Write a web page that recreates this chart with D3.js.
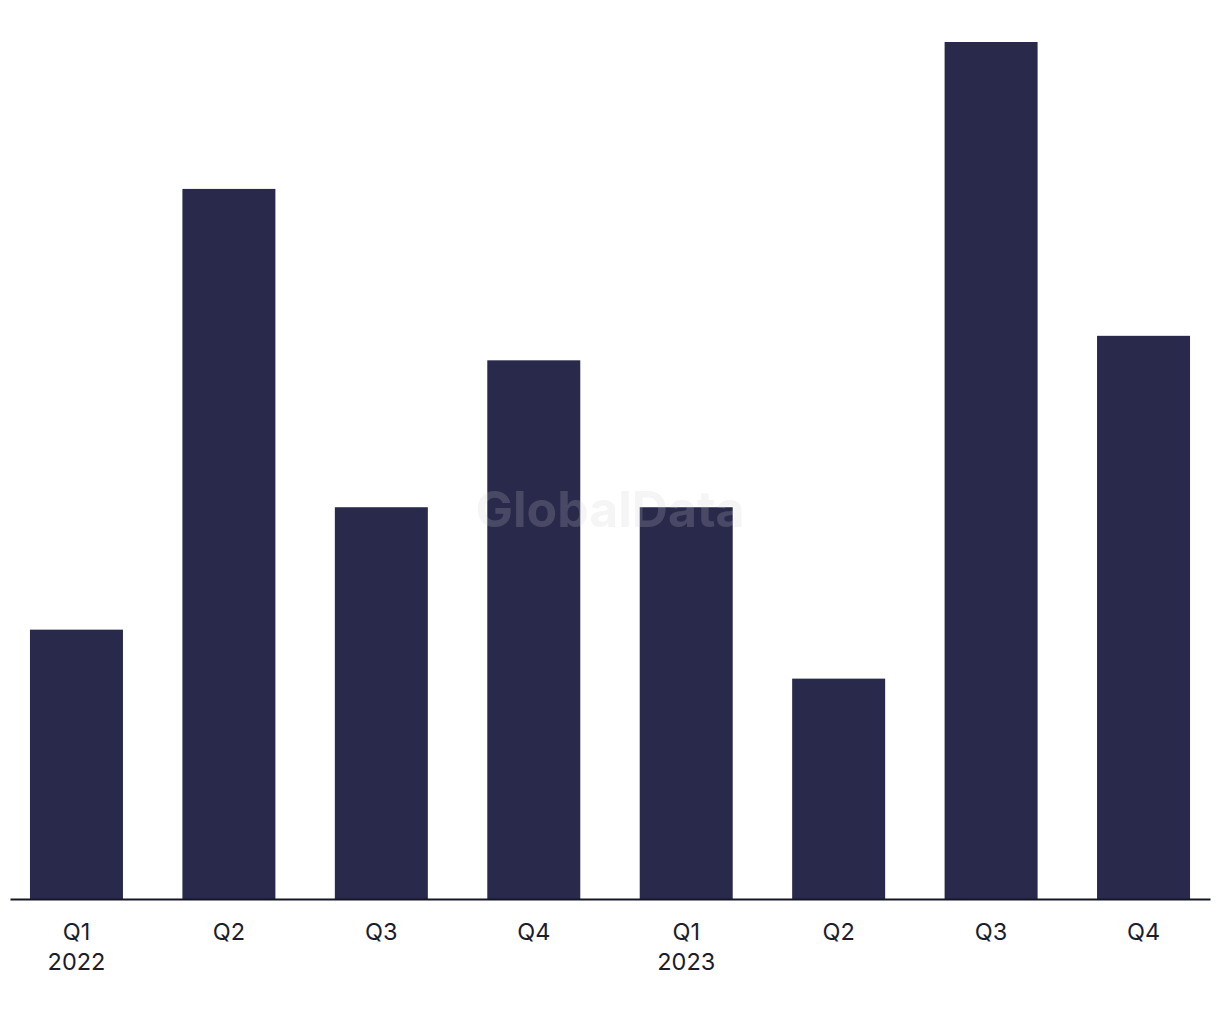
<!DOCTYPE html>
<html>
<head>
<meta charset="utf-8">
<script src="https://cdn.jsdelivr.net/npm/d3@7"></script>
<style>
  body { margin: 0; background: #fff; }
  svg { display: block; }
</style>
</head>
<body>
<script>
// data
var quarters = ["Q1", "Q2", "Q3", "Q4", "Q1", "Q2", "Q3", "Q4"];
var years = ["2022", "", "", "", "2023", "", "", ""];
var values = [11, 29, 16, 22, 16, 9, 35, 23];

var width = 1220,
    height = 1020,
    baseline = 899;

var svg = d3.select("body").append("svg")
    .attr("width", width)
    .attr("height", height);

// scales
var ids = d3.range(values.length);

var x = d3.scaleBand()
    .domain(ids)
    .range([10, 1210])
    .paddingInner(0.39)
    .paddingOuter(0.131);

var y = d3.scaleLinear()
    .domain([0, 35])
    .range([baseline, 42]);

// bars
svg.selectAll(".bar")
    .data(values)
  .enter().append("rect")
    .attr("class", "bar")
    .attr("x", function(d, i) { return x(i); })
    .attr("y", function(d) { return y(d); })
    .attr("width", x.bandwidth())
    .attr("height", function(d) { return baseline - y(d); })
    .style("fill", "#29294b");

// x axis
var axis = svg.append("g")
    .attr("transform", "translate(0," + baseline + ")")
    .call(d3.axisBottom(x).tickSize(0).tickFormat(""));

axis.select(".domain")
    .attr("stroke", "#161628")
    .attr("stroke-width", 2);

axis.selectAll(".tick text").remove();

var labels = axis.selectAll(".tick").append("text")
    .attr("fill", "#1c1c2a")
    .style("font-family", "Inter, 'Liberation Sans', sans-serif")
    .style("font-size", "23.5px")
    .attr("text-anchor", "middle");

labels.append("tspan")
    .attr("x", 0)
    .attr("y", 41)
    .text(function(i) { return quarters[i]; });

labels.append("tspan")
    .attr("x", 0)
    .attr("y", 71)
    .text(function(i) { return years[i]; });

// watermark
svg.append("text")
    .attr("x", 610)
    .attr("y", 527)
    .attr("text-anchor", "middle")
    .style("font-family", "Inter, 'Liberation Sans', sans-serif")
    .style("font-weight", "bold")
    .style("font-size", "50px")
    .style("fill", "rgb(204,204,210)")
    .style("fill-opacity", 0.2)
    .text("GlobalData");
</script>
</body>
</html>
